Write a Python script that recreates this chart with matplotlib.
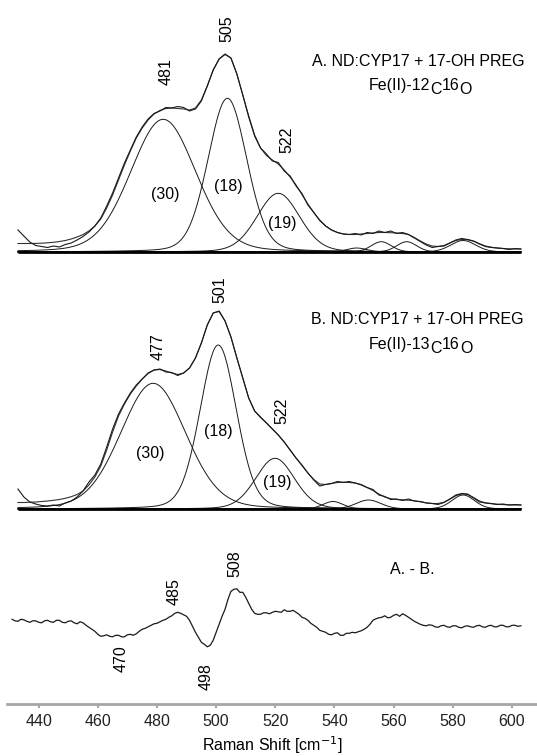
import numpy as np
import matplotlib
matplotlib.use("Agg")
import matplotlib.pyplot as plt
from matplotlib.transforms import offset_copy

plt.rcParams['font.family'] = ['Liberation Sans', 'DejaVu Sans']

# ---------------- data (intensity in arbitrary units) ----------------
shift = np.arange(433, 604, 2)          # Raman shift, cm-1
specA = [22, 16, 10, 6.5, 5.5, 4.5, 6, 5, 7.5, 9,
         12, 15.5, 20, 26, 34, 46, 59, 74, 89, 102,
         115, 125, 133, 138.5, 141, 144.5, 144, 145.5, 144.5, 141,
         143, 151, 166, 182, 193, 198, 194, 178, 157, 135,
         116, 104, 98, 91, 89.5, 81, 76, 66, 58.5, 47,
         39.5, 31.5, 26, 22, 19.5, 18, 17.5, 18.5, 17, 19.5,
         18.5, 21, 19.5, 21, 18.5, 19.5, 17.5, 14, 10.5, 7,
         4.5, 5.5, 6, 9, 12, 13.5, 12.5, 11, 8, 5.5,
         4.5, 4, 3.5, 2.5, 3.5, 3]
fitA = [8.5, 8.5, 8.5, 8.6, 8.8, 9.2, 9.7, 10.5, 11.5, 13,
        15, 17.5, 21, 26, 33, 44, 57, 72, 87, 101,
        114, 124, 132, 138, 141.5, 143.5, 144, 143.5, 143, 142,
        144, 152, 166, 182, 193, 197.5, 194, 178, 157, 136,
        117, 104, 96.5, 92, 88, 82, 75, 67, 57.5, 48,
        39.5, 32, 26, 22, 19.5, 18, 17.5, 17.5, 18, 18.5,
        19, 19.5, 19.5, 19.3, 19, 18.5, 17.5, 14.5, 11, 8,
        6, 5.5, 6.5, 9, 11.5, 12.5, 12.3, 10.8, 8.3, 6,
        4.8, 4, 3.5, 3.2, 3, 3]
specB = [20, 12, 7, 5, 3.5, 3, 4, 3, 6, 8,
         12, 18, 27, 34, 45, 62, 80, 95, 106, 116,
         124, 130, 136, 139, 140, 137, 136.5, 133.5, 136, 141,
         151, 166, 184, 196, 198, 188, 172, 151, 131, 111,
         98, 92, 86, 80, 74, 67, 59, 51, 44, 36,
         29, 23, 24.5, 25.5, 27.5, 26.5, 27.5, 26, 24.5, 21.5,
         19.5, 14, 12.5, 9.5, 10, 8.5, 10, 8, 7.5, 6,
         5.5, 4.5, 6.5, 10, 14, 15.5, 15, 11, 7, 6,
         5.5, 4.5, 5, 4, 4.5, 4]
fitB = [6.5, 6.5, 6.8, 7, 7.5, 8, 8.7, 9.5, 10.7, 12.3,
        14.5, 18, 24, 32, 43, 59, 77, 93, 105, 115,
        123, 130, 135.5, 139, 139.5, 138, 136, 134.5, 136, 141,
        151, 166, 184, 196, 197.5, 188, 172, 151, 131, 111,
        98, 91.5, 86, 80, 74, 67, 59, 51, 43.5, 36,
        29.5, 25, 24.5, 25.5, 26.5, 26.8, 26.5, 26, 24, 21.5,
        18.5, 15, 12, 10.3, 9.5, 9.2, 8.8, 8.2, 7.2, 6.2,
        5.5, 5.5, 6.8, 9.8, 13.2, 15, 14.5, 11.5, 8, 6.2,
        5.3, 4.8, 4.4, 4.1, 4, 4]

# difference spectrum A - B, 1 cm-1 steps from 431 cm-1
diffAB = [5, 3.5, 3, 5, 4.5, 3, 2, 3.5, 3.5, 2,
          1.5, 3.5, 4, 2.5, 2, 4, 4, 2, 1.5, 3,
          3.5, 1.5, 0.5, 2.5, 1.5, -1, -3, -5, -7, -10,
          -12, -11.5, -10.5, -12, -12.5, -11, -11, -12.5, -12.5, -10.5,
          -10, -11, -9.5, -7, -5, -4, -2.5, -1, 0.5, 1,
          2.5, 4, 5, 7, 8.5, 11, 12, 11, 9.5, 8,
          4, -2, -8, -13, -18, -20, -22.5, -21, -16, -8,
          0, 8, 15, 25, 33, 35, 35.5, 32, 32, 27,
          21, 15, 11, 10, 10, 11.5, 11.5, 10.5, 12, 13,
          12.5, 12, 14.5, 13, 13, 14, 12, 10, 7, 6,
          4, 1, -1, -3, -6, -7, -8, -10, -10.5, -9,
          -8.5, -11, -11, -9, -9, -8, -8.5, -7.5, -6.5, -5,
          -3, 0, 4, 5.5, 6.5, 7, 8.5, 6.5, 7, 9,
          10, 8, 10.5, 9, 7, 5, 3, 1.5, 0, -1,
          -1.5, -0.5, -1, -2.5, -3, -1.5, -1, -2.5, -3, -1.5,
          -1.5, -3, -3.5, -2, -1.5, -2.5, -3, -1.5, -1, -2.5,
          -3, -1.5, -1, -2.5, -2.5, -1, -1, -2.5, -2.5, -1,
          -1, -2, -1.5]
shift_diff = np.arange(431, 431 + len(diffAB))

# fitted bands: centre (cm-1), height, FWHM (cm-1)
bandA_center = [482.1, 503.8, 521.0, 547.5, 555.8, 564.4, 583.5]
bandA_height = [132.7, 153.7, 58.7, 4.0, 10.3, 10.3, 11.5]
bandA_fwhm = [26, 15.5, 17, 8, 8, 8, 10]

bandB_center = [478.7, 500.7, 519.9, 539.5, 551.5, 583.5]
bandB_height = [125.7, 164.0, 50.7, 7.5, 9.0, 14.0]
bandB_fwhm = [26, 14.5, 15.5, 8, 10, 9]

peak_labels_A = ["481", "505", "522"]
peak_labels_B = ["477", "501", "522"]
width_labels = ["(30)", "(18)", "(19)"]
diff_labels = ["485", "508", "470", "498"]

# ---------------- layout ----------------
offA, offB, offD = 452.3, 195.3, 80.0
ETA = 0.15
LC = '#1a1a1a'
FS = 11.5


def band(x, c, h, w):
    g = np.exp(-4 * np.log(2) * ((x - c) / w) ** 2)
    l = 1.0 / (1.0 + ((x - c) / (w / 2)) ** 2)
    return h * ((1 - ETA) * g + ETA * l)


fig = plt.figure(figsize=(5.37, 7.56), dpi=100)
ax = fig.add_axes([7 / 537, 1 - 704.3 / 756, 530 / 537, 704.3 / 756])
ax.set_xlim(429.3, 608.45)
ax.set_ylim(0, 704.3)

xf = np.linspace(shift[0], shift[-1], 600)


def draw_panel(off, spec, fit, cs, hs, ws):
    for c, h, w in zip(cs, hs, ws):
        ax.plot(xf, off + band(xf, c, h, w), color=LC, lw=0.7)
    ax.plot(shift, off + np.asarray(fit), color='#333333', lw=0.8)
    ax.plot(shift, off + np.asarray(spec), color=LC, lw=0.8)
    ax.hlines(off, shift[0], shift[-1], color='black', lw=2.0)


draw_panel(offA, specA, fitA, bandA_center, bandA_height, bandA_fwhm)
draw_panel(offB, specB, fitB, bandB_center, bandB_height, bandB_fwhm)
ax.plot(shift_diff, offD + np.asarray(diffAB), color=LC, lw=0.9)

# peak labels
for s, (x, y) in zip(peak_labels_A, [(483.0, 632.3), (503.6, 675.8), (523.8, 564.8)]):
    ax.text(x, y, s, rotation=90, ha='center', va='center', fontsize=FS)
for s, (x, y) in zip(width_labels, [(482.7, 509.3), (504.1, 517.6), (522.5, 481.0)]):
    ax.text(x, y, s, ha='center', va='center', fontsize=FS)
for s, (x, y) in zip(peak_labels_B, [(480.4, 357.3), (501.3, 414.8), (522.2, 293.6)]):
    ax.text(x, y, s, rotation=90, ha='center', va='center', fontsize=FS)
for s, (x, y) in zip(width_labels, [(477.6, 251.0), (500.7, 272.6), (520.5, 221.6)]):
    ax.text(x, y, s, ha='center', va='center', fontsize=FS)
for s, (x, y) in zip(diff_labels, [(485.7, 112.6), (506.4, 141.0), (467.8, 45.5), (496.6, 28.0)]):
    ax.text(x, y, s, rotation=90, ha='center', va='center', fontsize=FS)

ax.text(532.4, 643.3, "A. ND:CYP17 + 17-OH PREG", ha='left', va='center', fontsize=FS)
ax.text(532.1, 384.3, "B. ND:CYP17 + 17-OH PREG", ha='left', va='center', fontsize=FS)
ax.text(566.3, 134.8, "A. - B.", ha='center', va='center', fontsize=FS)


def multi_text(x, y, pieces):
    fig.canvas.draw()
    r = fig.canvas.get_renderer()
    dx = 0.0
    for s, dy in pieces:
        tr = offset_copy(ax.transData, fig=fig, x=dx, y=dy, units='points')
        t = ax.text(x, y, s, transform=tr, ha='left', va='baseline', fontsize=FS)
        bb = t.get_window_extent(r)
        dx += bb.width * 72.0 / fig.dpi


multi_text(551.7, 614.3, [("Fe(II)-12", 0), ("C", -3), ("16", 0), ("O", -3)])
multi_text(551.7, 355.3, [("Fe(II)-13", 0), ("C", -3), ("16", 0), ("O", -3)])

# axes styling
for sp in ['left', 'right', 'top']:
    ax.spines[sp].set_visible(False)
ax.spines['bottom'].set_color('#a6a6a6')
ax.spines['bottom'].set_linewidth(2.0)
ax.set_yticks([])
ax.set_xticks(np.arange(440, 601, 20))
ax.tick_params(axis='x', direction='out', length=3, width=1.5, color='#a6a6a6',
               labelsize=FS, labelcolor='#222222', pad=4)
ax.set_xlabel("Raman Shift [cm$^{-1}$]", fontsize=FS, labelpad=4)
ax.patch.set_visible(False)

fig.savefig("out.png", dpi=100)
